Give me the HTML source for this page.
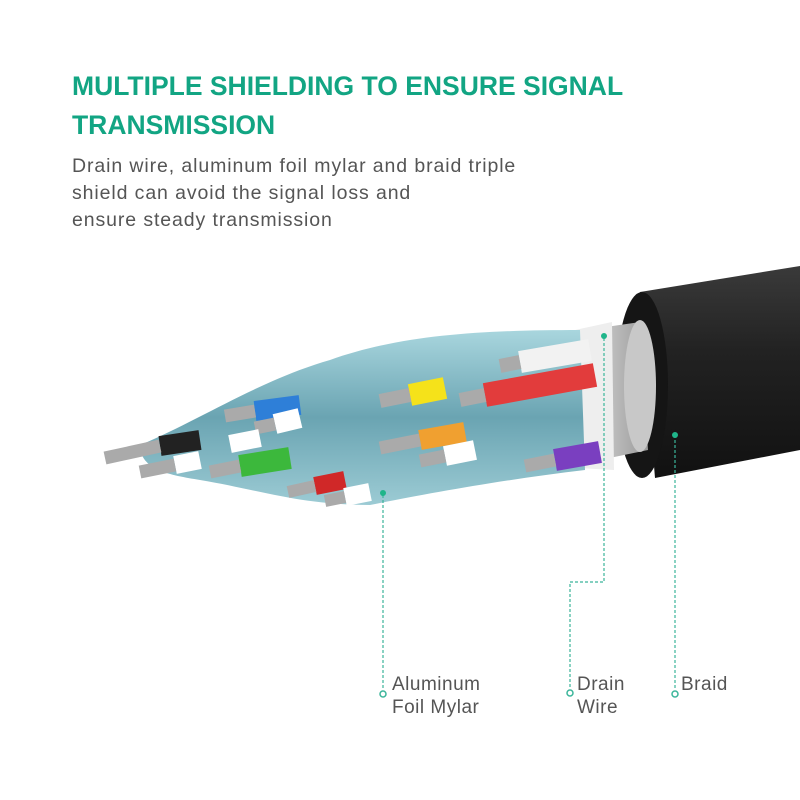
<!DOCTYPE html>
<html><head><meta charset="utf-8"><style>
body{margin:0;width:800px;height:800px;background:#fff;overflow:hidden;position:relative;font-family:"Liberation Sans",sans-serif}
h1{position:absolute;left:72px;top:67px;margin:0;font-size:26.5px;line-height:39px;color:#12a583;font-weight:bold;letter-spacing:0px;width:620px}
p{position:absolute;left:72px;top:153px;margin:0;font-size:19.5px;line-height:27px;color:#555;width:560px;letter-spacing:0.9px}
.lb{position:absolute;font-size:19px;line-height:23px;color:#555;letter-spacing:0.5px}
svg{position:absolute;left:0;top:0}
</style></head><body>
<h1>MULTIPLE SHIELDING TO ENSURE SIGNAL TRANSMISSION</h1>
<p>Drain wire, aluminum foil mylar and braid triple<br>shield can avoid the signal loss and<br>ensure steady transmission</p>
<svg width="800" height="800" viewBox="0 0 800 800">
<defs>
<linearGradient id="jk" x1="0" y1="0" x2="0" y2="1"><stop offset="0" stop-color="#3a3a3a"/><stop offset="0.4" stop-color="#222"/><stop offset="1" stop-color="#111"/></linearGradient>
<linearGradient id="br" x1="0" y1="0" x2="1" y2="0"><stop offset="0" stop-color="#d8d8d8"/><stop offset="1" stop-color="#9a9a9a"/></linearGradient>
<linearGradient id="fl" x1="0" y1="0" x2="0" y2="1"><stop offset="0" stop-color="#a9d6de"/><stop offset="0.5" stop-color="#6aa4b2"/><stop offset="1" stop-color="#9ccbd4"/></linearGradient>
</defs>
<polygon points="640,292 800,266 800,450 655,478" fill="url(#jk)"/>
<ellipse cx="642" cy="385" rx="26" ry="93" fill="#151515"/>
<polygon points="585,330 640,322 648,450 590,462" fill="url(#br)"/>
<ellipse cx="640" cy="386" rx="16" ry="66" fill="#c8c8c8"/>
<polygon points="575,330 612,322 614,470 578,468" fill="#eee"/>
<path d="M140,445 C200,420 260,380 330,360 C400,335 480,330 580,330 L585,470 C500,480 420,495 370,505 C300,505 260,490 200,480 C170,475 140,470 140,445Z" fill="url(#fl)"/>
<g stroke-linecap="butt" fill="none">
<line x1="590" y1="350" x2="520" y2="362" stroke="#f2f2f2" stroke-width="22"/>
<line x1="520" y1="362" x2="500" y2="366" stroke="#aaa" stroke-width="14"/>
<line x1="595" y1="375" x2="485" y2="395" stroke="#e23c3c" stroke-width="24"/>
<line x1="485" y1="395" x2="460" y2="400" stroke="#aaa" stroke-width="14"/>
<line x1="445" y1="388" x2="410" y2="395" stroke="#f5e21a" stroke-width="22"/>
<line x1="410" y1="395" x2="380" y2="401" stroke="#aaa" stroke-width="14"/>
<line x1="300" y1="405" x2="255" y2="411" stroke="#2e7fd8" stroke-width="20"/>
<line x1="255" y1="411" x2="225" y2="416" stroke="#aaa" stroke-width="13"/>
<line x1="300" y1="418" x2="275" y2="424" stroke="#fff" stroke-width="20"/>
<line x1="275" y1="424" x2="255" y2="428" stroke="#aaa" stroke-width="13"/>
<line x1="465" y1="432" x2="420" y2="440" stroke="#f0a030" stroke-width="20"/>
<line x1="420" y1="440" x2="380" y2="448" stroke="#aaa" stroke-width="13"/>
<line x1="475" y1="450" x2="445" y2="456" stroke="#fff" stroke-width="20"/>
<line x1="445" y1="456" x2="420" y2="461" stroke="#aaa" stroke-width="13"/>
<line x1="600" y1="452" x2="555" y2="460" stroke="#7a3fc0" stroke-width="22"/>
<line x1="555" y1="460" x2="525" y2="466" stroke="#aaa" stroke-width="13"/>
<line x1="290" y1="458" x2="240" y2="466" stroke="#3cb83c" stroke-width="22"/>
<line x1="240" y1="466" x2="210" y2="472" stroke="#aaa" stroke-width="13"/>
<line x1="260" y1="438" x2="230" y2="444" stroke="#fff" stroke-width="18"/>
<line x1="200" y1="440" x2="160" y2="446" stroke="#222" stroke-width="20"/>
<line x1="160" y1="446" x2="105" y2="458" stroke="#aaa" stroke-width="13"/>
<line x1="200" y1="460" x2="175" y2="465" stroke="#fff" stroke-width="18"/>
<line x1="175" y1="465" x2="140" y2="472" stroke="#aaa" stroke-width="13"/>
<line x1="345" y1="480" x2="315" y2="486" stroke="#d02828" stroke-width="18"/>
<line x1="315" y1="486" x2="288" y2="492" stroke="#aaa" stroke-width="12"/>
<line x1="370" y1="492" x2="345" y2="497" stroke="#fff" stroke-width="18"/>
<line x1="345" y1="497" x2="325" y2="501" stroke="#aaa" stroke-width="12"/>
</g>
<g stroke="#3bb59a" stroke-width="1.2" stroke-dasharray="3,2" fill="none">
<line x1="383" y1="495" x2="383" y2="690"/>
<polyline points="604,338 604,582 570,582 570,688"/>
<line x1="675" y1="435" x2="675" y2="690"/>
</g>
<g fill="#fff" stroke="#3bb59a" stroke-width="1.5">
<circle cx="383" cy="694" r="3"/><circle cx="570" cy="693" r="3"/><circle cx="675" cy="694" r="3"/>
</g>
<g fill="#1fb58a"><circle cx="383" cy="493" r="3"/><circle cx="604" cy="336" r="3"/><circle cx="675" cy="435" r="3"/></g>
</svg>
<div class="lb" style="left:392px;top:673px">Aluminum<br>Foil Mylar</div>
<div class="lb" style="left:577px;top:673px">Drain<br>Wire</div>
<div class="lb" style="left:681px;top:673px">Braid</div>
</body></html>
